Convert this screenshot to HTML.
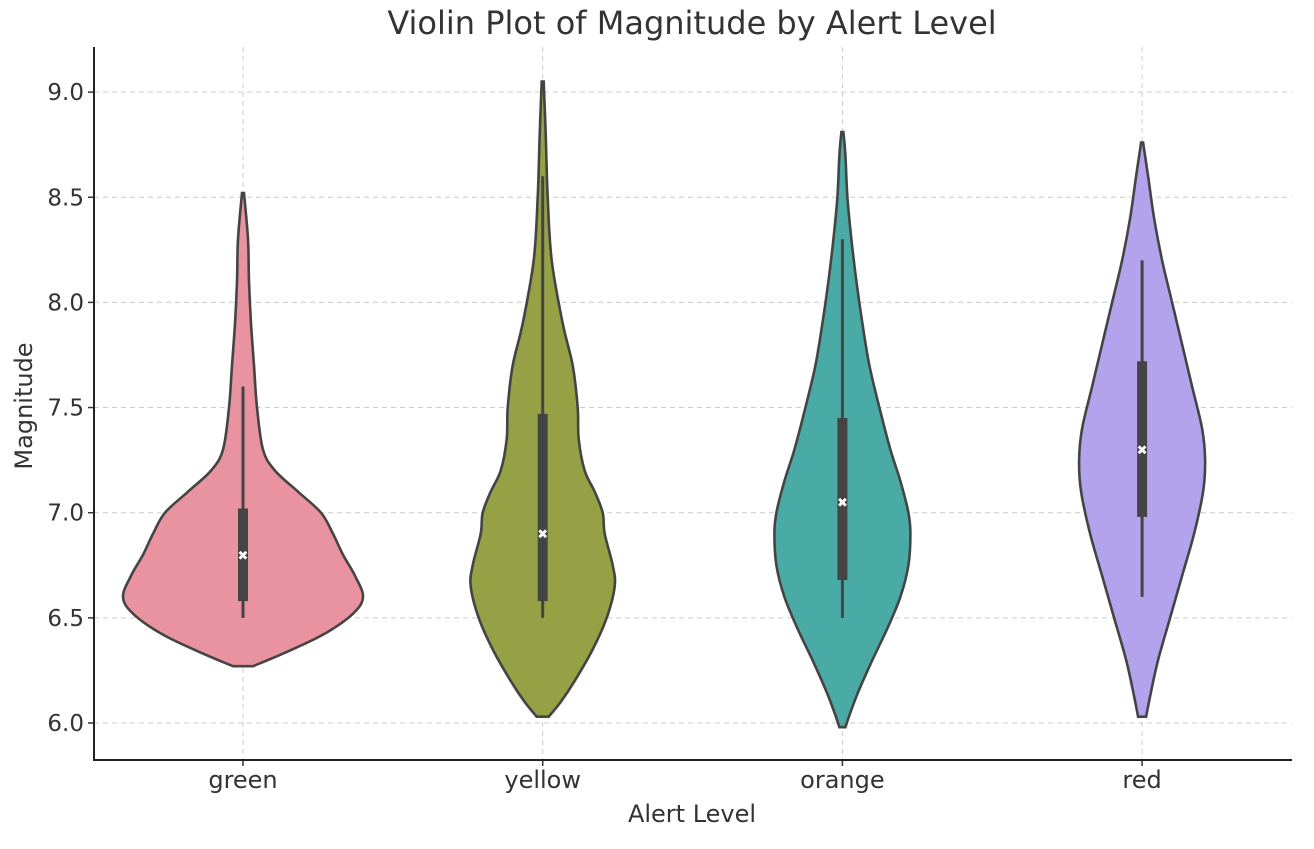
<!DOCTYPE html>
<html><head><meta charset="utf-8"><style>
body{margin:0;background:#fff;}
svg text{font-family:"DejaVu Sans","Liberation Sans",sans-serif;fill:#333;}
</style></head><body>
<svg id="chart" width="1314" height="844" viewBox="0 0 1314 844">
<g id="grid"></g>
<g id="violins"></g>
<g id="axes"></g>
<text x="692" y="34" font-size="32" text-anchor="middle">Violin Plot of Magnitude by Alert Level</text>
<text x="692" y="822" font-size="24" text-anchor="middle">Alert Level</text>
<text x="32" y="406" font-size="24" text-anchor="middle" transform="rotate(-90 32 406)">Magnitude</text>
</svg>
<script>
const categories=["green","yellow","orange","red"];
const colors=["#e8939f","#96a044","#4aaba6","#b3a3ec"];
const yTicks=[6.0,6.5,7.0,7.5,8.0,8.5,9.0];
const densGreen=[[6.27,10],[6.33,40],[6.42,80],[6.52,110],[6.6,120],[6.7,112],[6.8,100],[6.9,90],[7.0,78],[7.1,55],[7.2,32],[7.3,20],[7.5,14],[7.7,11],[7.9,8],[8.1,6],[8.3,5],[8.52,1]];
const densYellow=[[6.03,6],[6.1,18],[6.2,32],[6.35,50],[6.5,64],[6.65,72],[6.75,70],[6.9,62],[7.0,60],[7.1,52],[7.2,42],[7.35,36],[7.5,35],[7.7,30],[7.9,20],[8.2,9],[8.5,5],[8.8,3],[9.05,1]];
const densOrange=[[5.98,3],[6.05,8],[6.15,16],[6.3,30],[6.45,45],[6.6,58],[6.75,66],[6.9,68],[7.0,66],[7.15,58],[7.3,48],[7.5,37],[7.7,27],[7.9,20],[8.1,14],[8.3,9],[8.5,5],[8.7,3],[8.81,1]];
const densRed=[[6.03,4],[6.15,9],[6.3,16],[6.5,28],[6.7,40],[6.9,52],[7.1,61],[7.25,63],[7.4,60],[7.6,50],[7.8,40],[8.0,30],[8.2,20],[8.4,12],[8.6,6],[8.76,1]];
const q1=[6.58,6.58,6.68,6.98];
const q3=[7.02,7.47,7.45,7.72];
const medians=[6.8,6.9,7.05,7.3];
const whiskLo=[6.5,6.5,6.5,6.6];
const whiskHi=[7.6,8.6,8.3,8.2];
const densities=[densGreen,densYellow,densOrange,densRed];

const NS="http://www.w3.org/2000/svg";
const X0=94,X1=1292,Y0=47,Y1=760;
function y(v){return 723-(v-6)*210.3;}
function x(i){return 243+i*299.7;}
function mk(tag,attrs,parent){const e=document.createElementNS(NS,tag);for(const k in attrs)e.setAttribute(k,attrs[k]);parent.appendChild(e);return e;}
const grid=document.getElementById('grid'),axes=document.getElementById('axes'),vg=document.getElementById('violins');
yTicks.forEach(t=>{
  const l=mk('line',{x1:X0,x2:X1,y1:y(t),y2:y(t),stroke:'#ccc','stroke-dasharray':'5,4','stroke-width':1},grid);
  
  
  const tk=mk('line',{x1:X0-6,x2:X0,y1:y(t),y2:y(t),stroke:'#333','stroke-width':1.5},axes);
  
  
  const tx=mk('text',{x:X0-10,y:y(t)+8,'font-size':23,'text-anchor':'end'},axes);
  tx.textContent=t.toFixed(1);
  
  
});
categories.forEach((c,i)=>{
  const l=mk('line',{x1:x(i),x2:x(i),y1:Y0,y2:Y1,stroke:'#ccc','stroke-dasharray':'5,4','stroke-width':1},grid);
  
  
  const tk=mk('line',{x1:x(i),x2:x(i),y1:Y1,y2:Y1+6,stroke:'#333','stroke-width':1.5},axes);
  
  
  const tx=mk('text',{x:x(i),y:Y1+28,'font-size':24,'text-anchor':'middle'},axes);
  tx.textContent=c;
  
  
});
const ax=mk('path',{d:`M${X0},${Y0}V${Y1}H${X1}`,fill:'none',stroke:'#222','stroke-width':2},axes);



function smooth(pts){
  let d=`M${pts[0][0]},${pts[0][1]}`;
  for(let i=0;i<pts.length-1;i++){
    const p0=pts[i-1]||pts[i],p1=pts[i],p2=pts[i+1],p3=pts[i+2]||p2;
    const c1=[p1[0]+(p2[0]-p0[0])/6,p1[1]+(p2[1]-p0[1])/6];
    const c2=[p2[0]-(p3[0]-p1[0])/6,p2[1]-(p3[1]-p1[1])/6];
    d+=`C${c1[0]},${c1[1]} ${c2[0]},${c2[1]} ${p2[0]},${p2[1]}`;
  }
  return d;
}
categories.forEach((c,i)=>{
  const cx=x(i),dn=densities[i];
  const right=dn.map(p=>[cx+p[1],y(p[0])]);
  const left=dn.slice().reverse().map(p=>[cx-p[1],y(p[0])]);
  const d=smooth(right)+' L'+smooth(left).slice(1)+'Z';
  const v=mk('path',{d:d,fill:colors[i],stroke:'#444','stroke-width':2.6},vg);
  
  
  const w=mk('line',{x1:cx,x2:cx,y1:y(whiskLo[i]),y2:y(whiskHi[i]),stroke:'#444','stroke-width':3},vg);
  
  
  const b=mk('rect',{x:cx-5,y:y(q3[i]),width:10,height:y(q1[i])-y(q3[i]),fill:'#444'},vg);
  
  
  const m=mk('text',{x:cx,y:y(medians[i])+5,'font-size':13,'text-anchor':'middle',style:'fill:#fff;font-weight:bold'},vg);
  m.textContent='✖';
  
  
});
</script>
</body></html>
